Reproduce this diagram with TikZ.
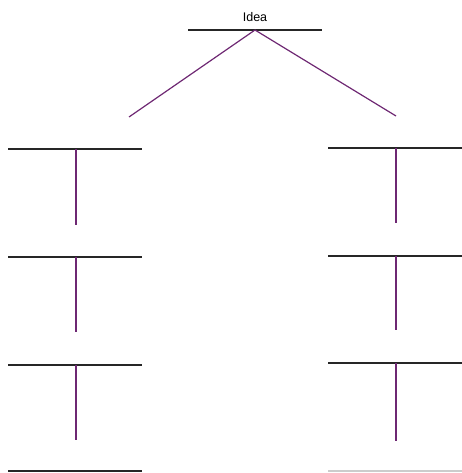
\documentclass[tikz,border=0pt]{standalone}
\usepackage{fontspec}
\setmainfont{Liberation Sans}
\usepackage{tikz}
\usetikzlibrary{positioning}

\begin{document}
\begin{tikzpicture}[
    x=1pt, y=-1pt,
    bar/.style={draw, line width=1.3pt, black!85},
    stem/.style={draw, line width=1.2pt, color={rgb,255:red,110;green,40;blue,115}},
    label/.style={font=\fontsize{12.5}{14}\selectfont, inner sep=0pt}
]
\useasboundingbox (0,0) rectangle (462,473);

% top of the tree
\node[label] (idea) at (255,17) {Idea};
\coordinate (top-l) at (188,30);
\coordinate (top-r) at (322,30);
\coordinate (apex) at (255,30);
\coordinate (left-end) at (129,117);
\coordinate (right-end) at (396,116);
\draw[bar] (top-l) -- (top-r);
\draw[stem] (apex) -- (left-end);
\draw[stem] (apex) -- (right-end);

% left column
\coordinate (l1a) at (8,149);  \coordinate (l1b) at (142,149);
\coordinate (l1t) at (76,149); \coordinate (l1e) at (76,225);
\coordinate (l2a) at (8,257);  \coordinate (l2b) at (142,257);
\coordinate (l2t) at (76,257); \coordinate (l2e) at (76,332);
\coordinate (l3a) at (8,365);  \coordinate (l3b) at (142,365);
\coordinate (l3t) at (76,365); \coordinate (l3e) at (76,440);
\coordinate (l4a) at (8,471);  \coordinate (l4b) at (142,471);

\draw[bar] (l1a) -- (l1b);
\draw[stem] (l1t) -- (l1e);
\draw[bar] (l2a) -- (l2b);
\draw[stem] (l2t) -- (l2e);
\draw[bar] (l3a) -- (l3b);
\draw[stem] (l3t) -- (l3e);
\draw[bar] (l4a) -- (l4b);

% right column
\coordinate (r1a) at (328,148);  \coordinate (r1b) at (462,148);
\coordinate (r1t) at (396,148);  \coordinate (r1e) at (396,223);
\coordinate (r2a) at (328,256);  \coordinate (r2b) at (462,256);
\coordinate (r2t) at (396,256);  \coordinate (r2e) at (396,330);
\coordinate (r3a) at (328,363);  \coordinate (r3b) at (462,363);
\coordinate (r3t) at (396,363);  \coordinate (r3e) at (396,441);
\coordinate (r4a) at (328,471);  \coordinate (r4b) at (462,471);

\draw[bar] (r1a) -- (r1b);
\draw[stem] (r1t) -- (r1e);
\draw[bar] (r2a) -- (r2b);
\draw[stem] (r2t) -- (r2e);
\draw[bar] (r3a) -- (r3b);
\draw[stem] (r3t) -- (r3e);
\draw[bar, black!20] (r4a) -- (r4b);
\end{tikzpicture}
\end{document}
